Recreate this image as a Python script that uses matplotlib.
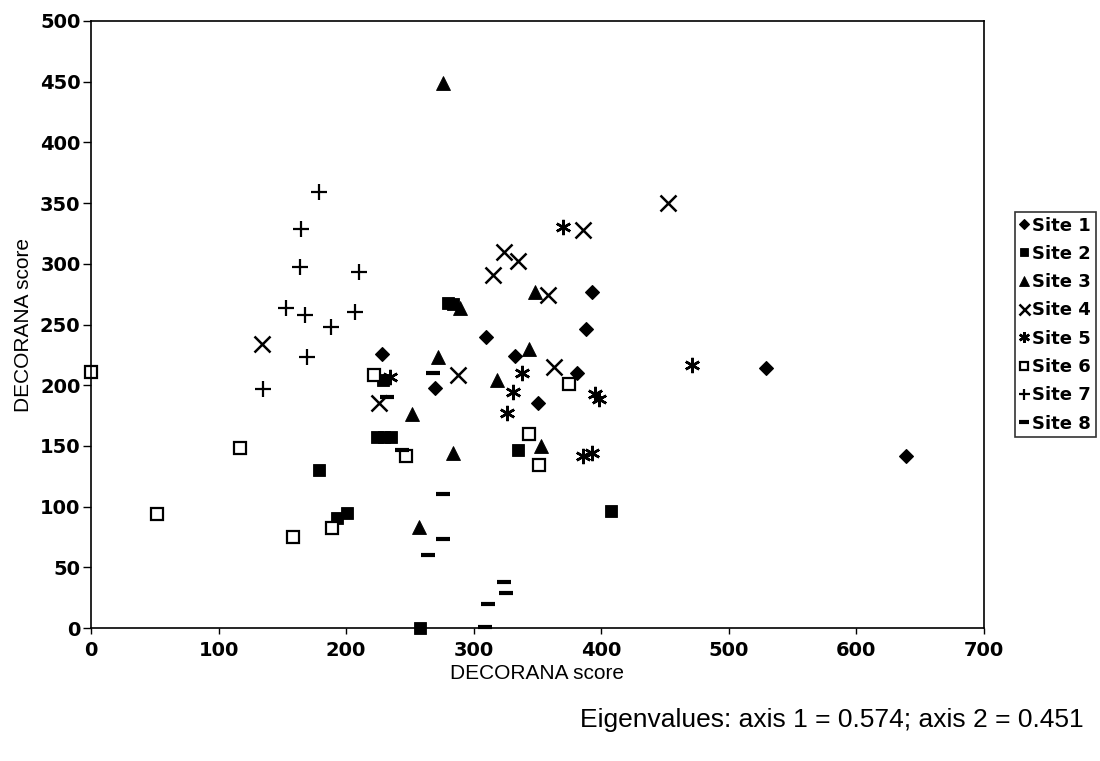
import matplotlib
matplotlib.use("Agg")
import matplotlib.pyplot as plt

plt.rcParams['font.family'] = ['Liberation Sans', 'DejaVu Sans']

# DECORANA ordination scores (axis 1, axis 2) for each site
site1_x = [228, 270, 310, 332, 350, 381, 393, 388, 529, 639]
site1_y = [226, 198, 240, 224, 185, 210, 277, 246, 214, 142]

site2_x = [258, 224, 230, 235, 179, 193, 201, 280, 284, 335, 408, 229]
site2_y = [0, 157, 157, 157, 130, 91, 95, 268, 267, 147, 96, 204]

site3_x = [276, 272, 318, 343, 348, 252, 289, 284, 353, 257]
site3_y = [449, 223, 204, 230, 277, 176, 264, 144, 150, 83]

site4_x = [452, 386, 324, 335, 315, 358, 288, 363, 134, 226]
site4_y = [350, 328, 310, 302, 291, 274, 208, 215, 234, 185]

site5_x = [370, 338, 331, 326, 395, 398, 386, 393, 471, 234]
site5_y = [330, 210, 194, 177, 193, 189, 142, 144, 217, 207]

site6_x = [0, 117, 52, 158, 189, 247, 222, 343, 351, 375]
site6_y = [211, 148, 94, 75, 82, 142, 208, 160, 134, 201]

site7_x = [179, 165, 164, 210, 153, 168, 188, 207, 169, 135]
site7_y = [359, 329, 297, 293, 264, 258, 248, 260, 223, 197]

site8_x = [268, 232, 244, 276, 276, 264, 324, 325, 311, 309]
site8_y = [210, 190, 147, 110, 73, 60, 38, 29, 20, 1]

site_labels = ["Site 1", "Site 2", "Site 3", "Site 4",
               "Site 5", "Site 6", "Site 7", "Site 8"]
x_ticks = [0, 100, 200, 300, 400, 500, 600, 700]
y_ticks = [0, 50, 100, 150, 200, 250, 300, 350, 400, 450, 500]

series = [
    (site1_x, site1_y, dict(marker='D', ms=7.5, mfc='black', mec='black', mew=0.8)),
    (site2_x, site2_y, dict(marker='s', ms=8.5, mfc='black', mec='black', mew=0.6)),
    (site3_x, site3_y, dict(marker='^', ms=9.5, mfc='black', mec='black', mew=0.6)),
    (site4_x, site4_y, dict(marker='x', ms=11, mec='black', mew=1.8)),
    (site5_x, site5_y, dict(marker=(6, 2, 0), ms=11, mec='black', mew=1.8)),
    (site6_x, site6_y, dict(marker='s', ms=8.5, mfc='white', mec='black', mew=1.6)),
    (site7_x, site7_y, dict(marker='+', ms=11, mec='black', mew=1.6)),
    (site8_x, site8_y, dict(marker='_', ms=10.5, mec='black', mew=3.0)),
]

tick_font = {'family': ['DejaVu Sans'], 'weight': 'bold', 'size': 14}

fig = plt.figure(figsize=(11, 7.61), dpi=100)
ax = fig.add_axes([91 / 1100, 1 - 628 / 761, 893 / 1100, 607 / 761])

handles = []
for (xs, ys, style), label in zip(series, site_labels):
    h, = ax.plot(xs, ys, linestyle='none', label=label, clip_on=False, **style)
    handles.append(h)

ax.set_xlim(0, 700)
ax.set_ylim(0, 500)
ax.set_xticks(x_ticks)
ax.set_yticks(y_ticks)
ax.set_xticklabels([str(v) for v in x_ticks], fontdict=tick_font)
ax.set_yticklabels([str(v) for v in y_ticks], fontdict=tick_font)
ax.tick_params(axis='y', direction='out', length=6, width=1, pad=1.5)
ax.tick_params(axis='x', direction='out', length=4, width=1, pad=5)
for sp in ax.spines.values():
    sp.set_linewidth(1.2)
    sp.set_color('black')

ax.set_xlabel("DECORANA score", fontsize=15, labelpad=3)
ax.set_ylabel("DECORANA score", fontsize=15, labelpad=5)

leg = fig.legend(handles=handles, labels=site_labels,
                 loc='upper left', bbox_to_anchor=(1015 / 1100, 1 - 212 / 761),
                 prop={'family': ['DejaVu Sans'], 'weight': 'bold', 'size': 13},
                 frameon=True, fancybox=False, edgecolor='black',
                 handlelength=0.5, handletextpad=0.2, labelspacing=0.57,
                 borderpad=0.25, borderaxespad=0, markerscale=0.72)
leg.get_frame().set_linewidth(1.2)

fig.text(832 / 1100, 1 - 720 / 761,
         "Eigenvalues: axis 1 = 0.574; axis 2 = 0.451",
         fontsize=19, ha='center', va='center')

fig.savefig("out.png", dpi=100, facecolor='white')
